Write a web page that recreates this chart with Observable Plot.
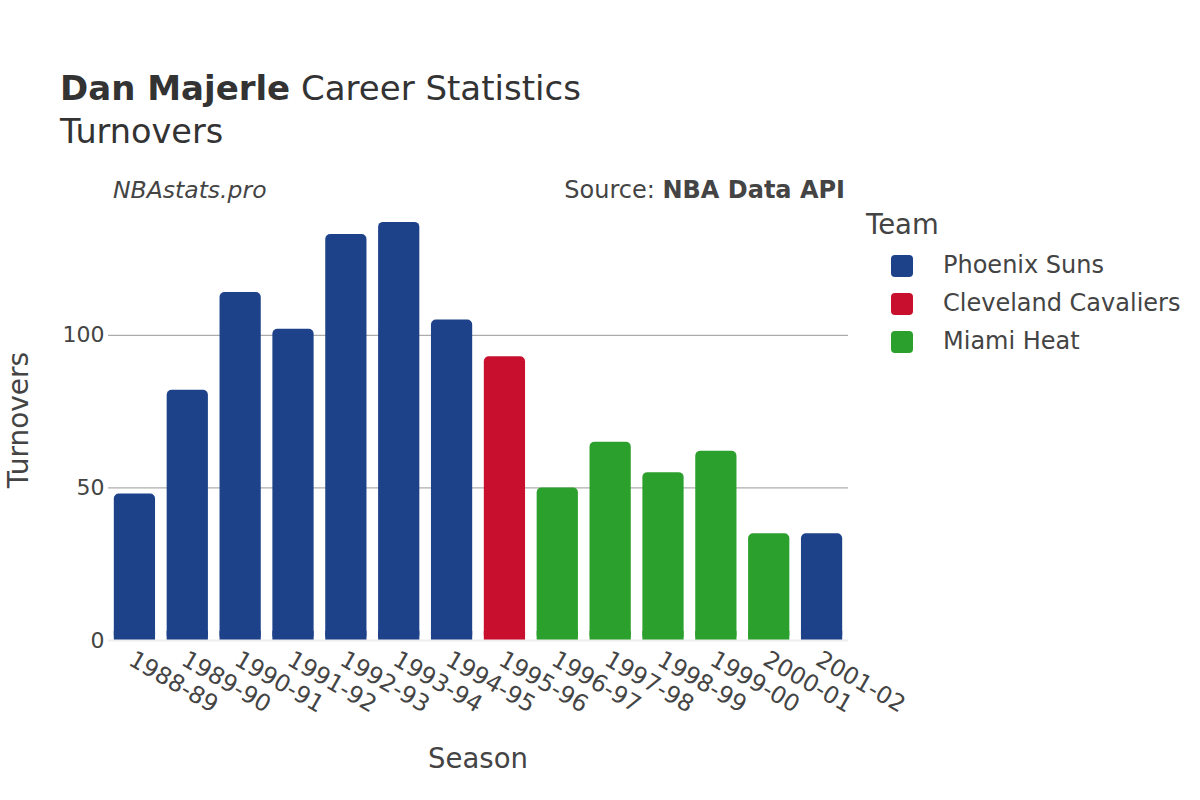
<!DOCTYPE html>
<html><head><meta charset="utf-8">
<script src="https://cdn.jsdelivr.net/npm/d3@7"></script>
<script src="https://cdn.jsdelivr.net/npm/@observablehq/plot@0.6"></script>
<style>
body{margin:0;background:#fff;font-family:"DejaVu Sans",sans-serif;color:#444;}
#wrap{position:relative;width:1200px;height:800px;overflow:hidden;}
.t{position:absolute;white-space:nowrap;}
#chart{position:absolute;left:0;top:170px;}
.sw{position:absolute;width:22px;height:22px;border-radius:4px;}
</style></head>
<body><div id="wrap">
<div id="chart"></div>
<div class="t" style="left:60px;top:68px;font-size:34px;color:#333"><b>Dan Majerle</b> Career Statistics</div>
<div class="t" style="left:60px;top:112px;font-size:33.5px;color:#333">Turnovers</div>
<div class="t" style="left:113px;top:176px;font-size:23.5px;font-style:italic;color:#444">NBAstats.pro</div>
<div class="t" style="right:355px;top:176px;font-size:24px;color:#444">Source: <b>NBA Data API</b></div>
<div id="legend"></div>
</div>
<script>
const seasons = ["1988-89","1989-90","1990-91","1991-92","1992-93","1993-94","1994-95","1995-96","1996-97","1997-98","1998-99","1999-00","2000-01","2001-02"];
const turnovers = [48,82,114,102,133,137,105,93,50,65,55,62,35,35];
const teams = ["Phoenix Suns","Phoenix Suns","Phoenix Suns","Phoenix Suns","Phoenix Suns","Phoenix Suns","Phoenix Suns","Cleveland Cavaliers","Miami Heat","Miami Heat","Miami Heat","Miami Heat","Miami Heat","Phoenix Suns"];
const teamNames = ["Phoenix Suns","Cleveland Cavaliers","Miami Heat"];
const teamColors = ["#1D428A","#C8102E","#2CA02C"];
const yTicks = [0,50,100];

const data = seasons.map((s,i)=>({season:s, value:turnovers[i], team:teams[i]}));

const chart = Plot.plot({
  width: 1200,
  height: 630,
  marginLeft: 108,
  marginRight: 352,
  marginTop: 31,
  marginBottom: 160,
  style: {fontFamily: '"DejaVu Sans", sans-serif', fontSize: "22px", color: "#444", background: "transparent", overflow: "visible"},
  x: {domain: seasons, paddingInner: 0.22, paddingOuter: 0.11, round: false, label: null},
  y: {domain: [0, 143.85], label: null},
  color: {domain: teamNames, range: teamColors},
  marks: [
    Plot.ruleY(yTicks.filter(d=>d>0), {stroke: "#999", strokeWidth: 1}),
    Plot.barY(data, {x: "season", y: "value", fill: "team", rx: 5}),
    Plot.barY(data, {x: "season", y1: 0, y2: d => Math.min(d.value, 3), fill: "team"}),
    Plot.ruleY([0], {stroke: "#eee", strokeWidth: 2}),
    Plot.axisX({tickRotate: 30, tickSize: 0, tickPadding: 10, fontSize: 23.5, textAnchor: "start", dx: -4, dy: 7, label: null}),
    Plot.axisY({ticks: yTicks, tickSize: 0, tickPadding: 4, fontSize: 22, label: null})
  ]
});
document.getElementById("chart").appendChild(chart);

// axis titles
const wrap = document.getElementById("wrap");
const xl = document.createElement("div");
xl.className = "t"; xl.style.cssText = "left:478px;top:742px;font-size:27.5px;color:#444;transform:translateX(-50%)";
xl.textContent = "Season"; wrap.appendChild(xl);
const yl = document.createElement("div");
yl.className = "t"; yl.style.cssText = "left:18px;top:420px;font-size:28px;color:#444;transform:translate(-50%,-50%) rotate(-90deg)";
yl.textContent = "Turnovers"; wrap.appendChild(yl);

// legend
const lg = document.getElementById("legend");
const lt = document.createElement("div");
lt.className = "t"; lt.style.cssText = "left:866px;top:208px;font-size:27.5px;color:#444";
lt.textContent = "Team"; lg.appendChild(lt);
teamNames.forEach((n,i)=>{
  const sw = document.createElement("div");
  sw.className = "sw"; sw.style.left = "891px"; sw.style.top = (255 + i*38) + "px"; sw.style.background = teamColors[i];
  lg.appendChild(sw);
  const tx = document.createElement("div");
  tx.className = "t"; tx.style.cssText = `left:943px;top:${251 + i*38}px;font-size:24px;color:#444`;
  tx.textContent = n; lg.appendChild(tx);
});
</script>
</body></html>
